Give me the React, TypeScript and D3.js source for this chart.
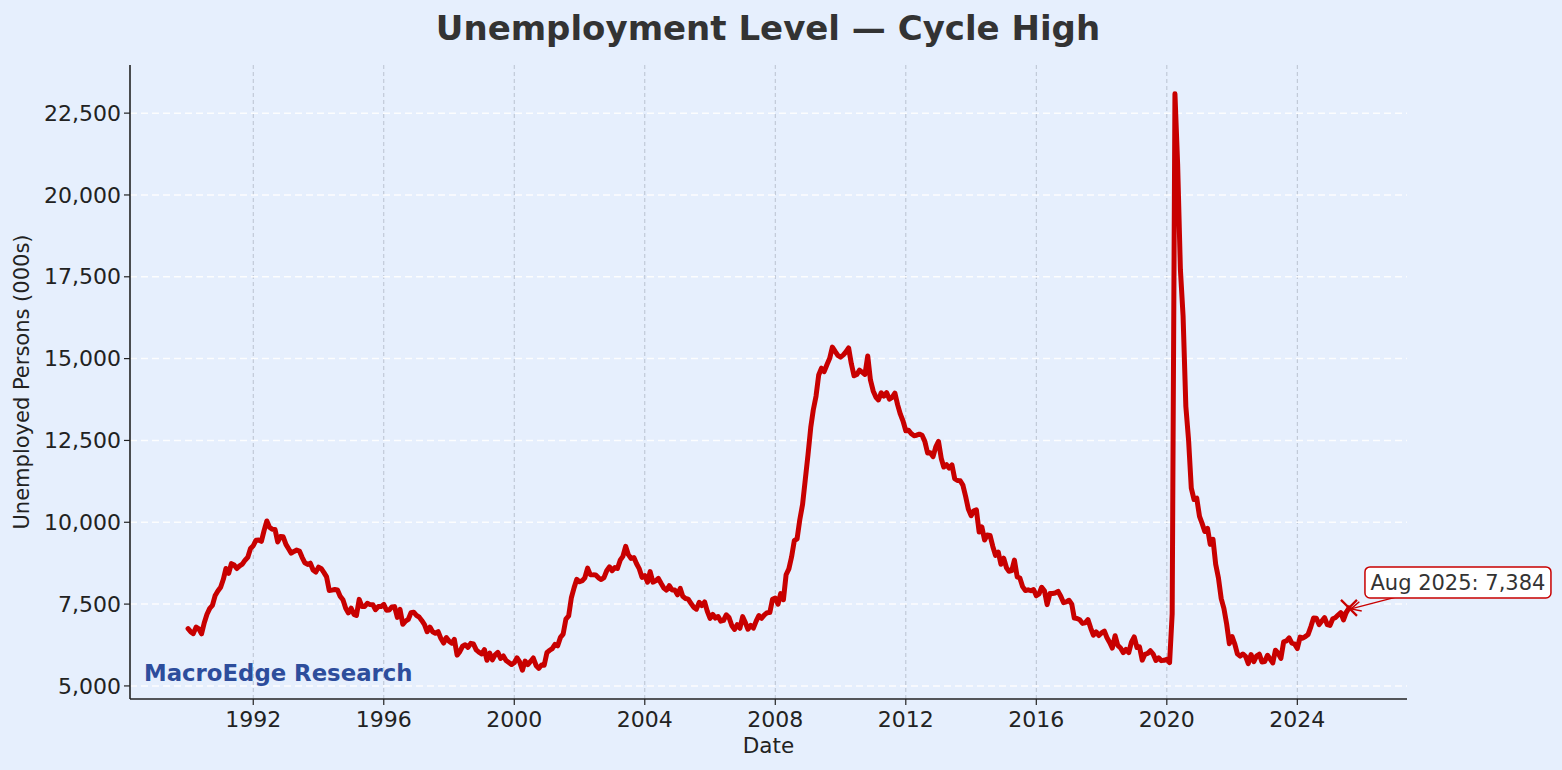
import React from "react";
import * as d3 from "d3";

const TITLE = "Unemployment Level — Cycle High";
const X_LABEL = "Date";
const Y_LABEL = "Unemployed Persons (000s)";
const WATERMARK = "MacroEdge Research";

const START_YEAR = 1990;
// Monthly unemployment level (thousands), Jan 1990 – Aug 2025
const unemployed: number[] = [
  6752, 6651, 6598, 6797, 6742, 6590, 6922, 7188, 7368, 7459, 7764, 7901,
  8015, 8265, 8586, 8439, 8736, 8692, 8586, 8666, 8722, 8842, 8931, 9198,
  9283, 9454, 9460, 9415, 9744, 10040, 9850, 9787, 9781, 9398, 9565, 9557,
  9325, 9183, 9056, 9110, 9149, 9121, 8930, 8763, 8714, 8750, 8542, 8477,
  8630, 8583, 8470, 8331, 7915, 7927, 7946, 7933, 7734, 7632, 7375, 7230,
  7375, 7187, 7153, 7645, 7430, 7427, 7527, 7484, 7478, 7328, 7426, 7423,
  7491, 7313, 7318, 7415, 7423, 7095, 7337, 6882, 6979, 7031, 7236, 7253,
  7158, 7102, 7000, 6873, 6655, 6799, 6655, 6608, 6656, 6454, 6308, 6476,
  6368, 6306, 6422, 5941, 6047, 6212, 6259, 6179, 6300, 6280, 6100, 6032,
  5976, 6111, 5783, 6004, 5796, 5951, 6025, 5838, 5915, 5778, 5716, 5653,
  5708, 5858, 5733, 5481, 5758, 5651, 5747, 5853, 5625, 5534, 5639, 5634,
  6023, 6089, 6141, 6271, 6226, 6484, 6583, 7042, 7142, 7694, 8003, 8258,
  8182, 8215, 8304, 8599, 8399, 8393, 8390, 8304, 8251, 8307, 8520, 8640,
  8520, 8618, 8588, 8842, 8957, 9266, 9011, 8896, 8921, 8732, 8576, 8317,
  8370, 8167, 8491, 8170, 8212, 8286, 8136, 7990, 7927, 8061, 7932, 7934,
  7784, 7980, 7737, 7672, 7651, 7524, 7406, 7345, 7553, 7453, 7566, 7279,
  7064, 7184, 7072, 7120, 6980, 7001, 7175, 7091, 6847, 6727, 6872, 6762,
  7116, 6927, 6731, 6850, 6766, 6979, 7149, 7067, 7170, 7237, 7240, 7645,
  7685, 7497, 7822, 7637, 8395, 8575, 8937, 9438, 9494, 10074, 10538, 11286,
  12058, 12898, 13426, 13853, 14499, 14707, 14601, 14814, 15009, 15352, 15219, 15098,
  15046, 15113, 15202, 15325, 14849, 14474, 14512, 14648, 14579, 14516, 15081, 14348,
  14013, 13820, 13737, 13957, 13855, 13962, 13763, 13818, 13948, 13594, 13302, 13093,
  12797, 12813, 12713, 12646, 12660, 12692, 12656, 12471, 12115, 12124, 12005, 12298,
  12471, 11950, 11689, 11760, 11654, 11751, 11335, 11279, 11270, 11136, 10787, 10404,
  10202, 10349, 10380, 9702, 9859, 9460, 9608, 9599, 9262, 8990, 9090, 8717,
  8903, 8610, 8504, 8526, 8845, 8331, 8297, 8033, 7913, 7937, 7910, 7945,
  7759, 7813, 8015, 7907, 7484, 7822, 7826, 7840, 7890, 7740, 7545, 7569,
  7617, 7500, 7074, 7062, 7024, 6911, 6927, 7026, 6769, 6551, 6653, 6541,
  6618, 6672, 6480, 6326, 6157, 6533, 6238, 6157, 6015, 6114, 6020, 6339,
  6497, 6172, 6194, 5787, 5966, 5994, 6075, 5973, 5779, 5858, 5773, 5781,
  5811, 5713, 7203, 23090, 20951, 17723, 16308, 13542, 12497, 11044, 10694, 10736,
  10177, 9951, 9718, 9812, 9324, 9481, 8720, 8297, 7667, 7371, 6889, 6290,
  6508, 6271, 5981, 5910, 5975, 5905, 5683, 5959, 5744, 5910, 5970, 5733,
  5747, 5936, 5827, 5702, 6091, 5997, 5840, 6345, 6376, 6466, 6307, 6282,
  6143, 6492, 6460, 6509, 6573, 6814, 7074, 7068, 6873, 6984, 7085, 6876,
  6849, 7052, 7083, 7166, 7237, 7015, 7236, 7384,
];

const xTickYears = [1992, 1996, 2000, 2004, 2008, 2012, 2016, 2020, 2024];
const yTicks = [5000, 7500, 10000, 12500, 15000, 17500, 20000, 22500];
const monthNames = ["Jan","Feb","Mar","Apr","May","Jun","Jul","Aug","Sep","Oct","Nov","Dec"];

const W = 1562, H = 770;
const M = { left: 130, right: 155, top: 65, bottom: 71 };
const FONT = "'DejaVu Sans', sans-serif";
const BG = "#e6effd";
const RED = "#c80000";

export default function App() {
  const data = unemployed.map((v, i) => ({
    date: new Date(START_YEAR + Math.floor(i / 12), i % 12, 1),
    value: v,
  }));
  const first = data[0].date, last = data[data.length - 1].date;
  const span = last.getTime() - first.getTime();
  const x = d3.scaleTime()
    .domain([new Date(first.getTime() - span * 0.05), new Date(last.getTime() + span * 0.05)])
    .range([M.left, W - M.right]);
  const [mn, mx] = d3.extent(data, d => d.value) as [number, number];
  const pad = (mx - mn) * 0.05;
  const y = d3.scaleLinear().domain([mn - pad, mx + pad]).range([H - M.bottom, M.top]);

  const line = d3.line<{ date: Date; value: number }>()
    .x(d => x(d.date)).y(d => y(d.value));

  const fmt = d3.format(",");
  const lp = data[data.length - 1];
  const px = x(lp.date), py = y(lp.value);
  const label = `${monthNames[lp.date.getMonth()]} ${lp.date.getFullYear()}: ${fmt(lp.value)}`;
  const boxX = px + 16, boxY = py - 41, boxW = 186, boxH = 31;
  const arrowStart: [number, number] = [px + 48, py - 11];
  const tip: [number, number] = [px + 2, py + 1];
  const ang = Math.atan2(tip[1] - arrowStart[1], tip[0] - arrowStart[0]);
  const hl = 11, ha = 0.45;
  const ms = 8;

  return (
    <svg width={W} height={H} style={{ display: "block", position: "absolute", left: 0, top: 0 }}>
      <rect x={0} y={0} width={W} height={H} fill={BG} />
      <text x={768} y={40} textAnchor="middle" fontFamily={FONT} fontWeight="bold" fontSize={34} fill="#333">{TITLE}</text>

      {/* grid */}
      {xTickYears.map(yr => {
        const gx = x(new Date(yr, 0, 1));
        return <line key={"vg" + yr} x1={gx} x2={gx} y1={M.top} y2={H - M.bottom} stroke="#bac2d0" strokeWidth={1} strokeDasharray="4,3" />;
      })}
      {yTicks.map(t => (
        <line key={"hg" + t} x1={M.left} x2={W - M.right} y1={y(t)} y2={y(t)} stroke="#ffffff" strokeWidth={1.5} strokeDasharray="7,4" opacity={0.9} />
      ))}

      {/* axes */}
      <line x1={M.left} x2={M.left} y1={M.top} y2={H - M.bottom} stroke="#222" strokeWidth={1.6} />
      <line x1={M.left} x2={W - M.right} y1={H - M.bottom} y2={H - M.bottom} stroke="#222" strokeWidth={1.6} />
      {yTicks.map(t => (
        <g key={"yt" + t}>
          <line x1={M.left - 6} x2={M.left} y1={y(t)} y2={y(t)} stroke="#222" strokeWidth={1.2} />
          <text x={M.left - 9} y={y(t)} dy="0.35em" textAnchor="end" fontFamily={FONT} fontSize={22} fill="#222">{fmt(t)}</text>
        </g>
      ))}
      {xTickYears.map(yr => {
        const gx = x(new Date(yr, 0, 1));
        return (
          <g key={"xt" + yr}>
            <line x1={gx} x2={gx} y1={H - M.bottom} y2={H - M.bottom + 6} stroke="#222" strokeWidth={1.2} />
            <text x={gx} y={H - M.bottom + 28} textAnchor="middle" fontFamily={FONT} fontSize={22} fill="#222">{yr}</text>
          </g>
        );
      })}
      <text x={(M.left + W - M.right) / 2} y={753} textAnchor="middle" fontFamily={FONT} fontSize={21.5} fill="#222">{X_LABEL}</text>
      <text transform={`translate(29,${(M.top + H - M.bottom) / 2}) rotate(-90)`} textAnchor="middle" fontFamily={FONT} fontSize={21} fill="#222">{Y_LABEL}</text>

      {/* watermark */}
      <text x={144} y={681} fontFamily={FONT} fontWeight="bold" fontSize={22.8} fill="#2d4d9c">{WATERMARK}</text>

      {/* series */}
      <path d={line(data) || ""} fill="none" stroke={RED} strokeWidth={5} strokeLinejoin="round" strokeLinecap="round" />

      {/* marker */}
      <line x1={px - ms} x2={px + ms} y1={py - ms} y2={py + ms} stroke={RED} strokeWidth={2.2} />
      <line x1={px - ms} x2={px + ms} y1={py + ms} y2={py - ms} stroke={RED} strokeWidth={2.2} />

      {/* annotation arrow */}
      <line x1={arrowStart[0]} y1={arrowStart[1]} x2={tip[0]} y2={tip[1]} stroke={RED} strokeWidth={1.5} />
      <path d={`M${tip[0] - hl * Math.cos(ang - ha)},${tip[1] - hl * Math.sin(ang - ha)} L${tip[0]},${tip[1]} L${tip[0] - hl * Math.cos(ang + ha)},${tip[1] - hl * Math.sin(ang + ha)}`} fill="none" stroke={RED} strokeWidth={1.5} />
      <rect x={boxX} y={boxY} width={boxW} height={boxH} rx={5} fill="#ffffff" stroke={RED} strokeWidth={1.5} />
      <text x={boxX + boxW / 2} y={boxY + boxH / 2} dy="0.36em" textAnchor="middle" fontFamily={FONT} fontSize={21} fill="#333">{label}</text>
    </svg>
  );
}
